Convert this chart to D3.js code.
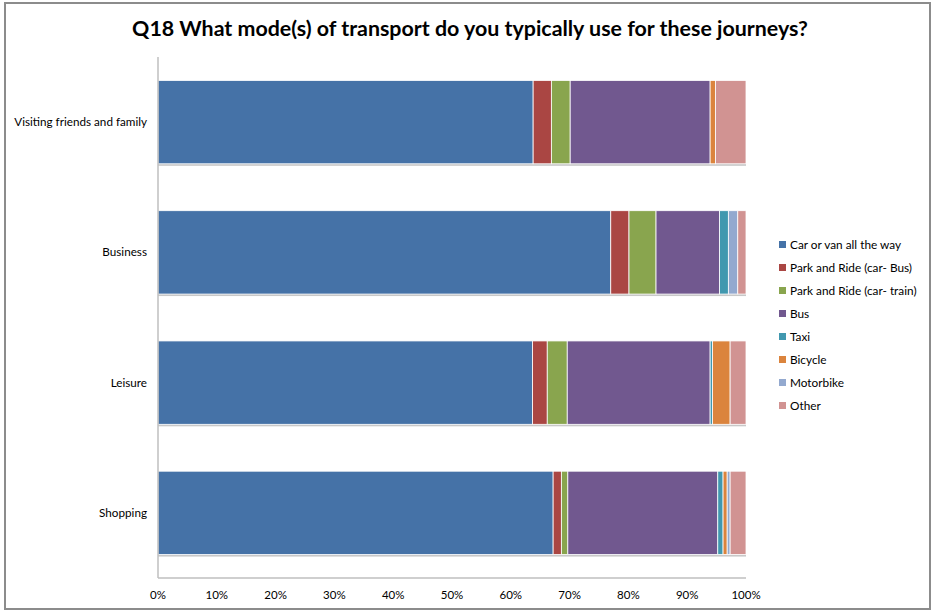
<!DOCTYPE html>
<html lang="en">
<head>
<script src="https://d3js.org/d3.v7.min.js"></script>
<style>
  body { margin: 0; background: #fff; }
  text { font-family: Lato, "Open Sans", sans-serif; fill: #000; }
</style>
</head>
<body>
<script>
var categories = ["Visiting friends and family", "Business", "Leisure", "Shopping"];
var modes = ["Car or van all the way", "Park and Ride (car- Bus)", "Park and Ride (car- train)",
  "Bus", "Taxi", "Bicycle", "Motorbike", "Other"];
var colors = ["#4572a7", "#aa4643", "#89a54e", "#71588f", "#4198af", "#db843d", "#93a9cf", "#d19392"];

// percentage share of each mode, in category order
var car       = [63.8, 77.0, 63.7, 67.2];
var parkBus   = [3.1, 3.1, 2.5, 1.4];
var parkTrain = [3.2, 4.6, 3.4, 1.1];
var bus       = [23.8, 10.8, 24.3, 25.5];
var taxi      = [0.0, 1.5, 0.4, 0.9];
var bicycle   = [0.9, 0.0, 3.0, 0.7];
var motorbike = [0.0, 1.6, 0.0, 0.5];
var other     = [5.2, 1.4, 2.7, 2.7];
var ticks = [0, 10, 20, 30, 40, 50, 60, 70, 80, 90, 100];

var series = [car, parkBus, parkTrain, bus, taxi, bicycle, motorbike, other];
var rows = categories.map(function(c, i) {
  var r = { cat: c };
  modes.forEach(function(m, j) { r[m] = series[j][i]; });
  return r;
});

var width = 936, height = 614;
var svg = d3.select("body").append("svg")
  .attr("width", width).attr("height", height);

// outer frame
svg.append("rect").attr("x", 5).attr("y", 3).attr("width", 925).attr("height", 606)
  .attr("fill", "#fff").attr("stroke", "#8c8c8c").attr("stroke-width", 2);

svg.append("text").attr("x", 470).attr("y", 36).attr("text-anchor", "middle")
  .style("font-size", "21.4px").style("font-weight", "bold")
  .text("Q18 What mode(s) of transport do you typically use for these journeys?");

var x = d3.scaleLinear().domain([0, 100]).range([158, 746]);
var y = d3.scaleBand().domain(categories).range([57, 578]).paddingInner(0.36).paddingOuter(0.18);

var stack = d3.stack().keys(modes);
var layers = stack(rows);

// bar shadows
svg.append("g").selectAll("rect").data(categories).enter().append("rect")
  .attr("x", x(0)).attr("y", function(d) { return y(d) + y.bandwidth(); })
  .attr("width", x(100) - x(0)).attr("height", 2).attr("fill", "#c8c8c8");

svg.append("g").selectAll("g").data(layers).enter().append("g")
  .attr("fill", function(d, i) { return colors[i]; })
  .selectAll("rect").data(function(d) { return d; }).enter().append("rect")
  .attr("x", function(d) { return x(d[0]); })
  .attr("y", function(d) { return y(d.data.cat); })
  .attr("width", function(d) { return x(d[1]) - x(d[0]); })
  .attr("height", y.bandwidth())
  .attr("stroke", "#fff").attr("stroke-width", 0.8);

// axes lines
svg.append("line").attr("x1", 158).attr("x2", 158).attr("y1", 57).attr("y2", 578)
  .attr("stroke", "#bfbfbf").attr("stroke-width", 1.5);
svg.append("line").attr("x1", 158).attr("x2", 746).attr("y1", 578).attr("y2", 578)
  .attr("stroke", "#bfbfbf").attr("stroke-width", 1.5);

svg.append("g").selectAll("text").data(ticks).enter().append("text")
  .attr("x", function(d) { return x(d); }).attr("y", 599)
  .attr("text-anchor", "middle").style("font-size", "11.5px")
  .text(function(d) { return d + "%"; });

svg.append("g").selectAll("text").data(categories).enter().append("text")
  .attr("x", 147).attr("y", function(d) { return y(d) + y.bandwidth() / 2 + 4; })
  .attr("text-anchor", "end").style("font-size", "11.7px")
  .text(function(d) { return d; });

var legend = svg.append("g").selectAll("g").data(modes).enter().append("g")
  .attr("transform", function(d, i) { return "translate(779," + (245 + i * 23) + ")"; });
legend.append("rect").attr("x", 0).attr("y", -4).attr("width", 7).attr("height", 7)
  .attr("fill", function(d, i) { return colors[i]; });
legend.append("text").attr("x", 11).attr("y", 4).style("font-size", "11.8px")
  .text(function(d) { return d; });
</script>
</body>
</html>
